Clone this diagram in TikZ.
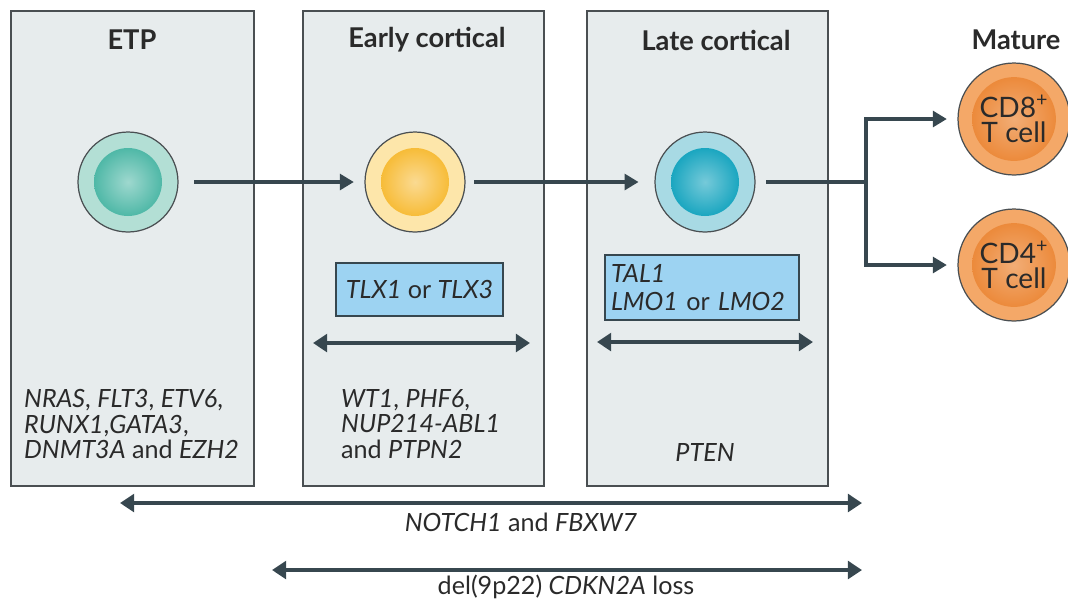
\documentclass[tikz,border=0pt]{standalone}
\usepackage{fontspec}
\setmainfont{Lato}
\usetikzlibrary{arrows.meta}

\definecolor{stagebg}{HTML}{E7ECED}
\definecolor{boxline}{HTML}{4A4F52}
\definecolor{driverbg}{HTML}{9DD3F2}
\definecolor{arrowc}{HTML}{37474F}
\definecolor{txt}{HTML}{2A2A2A}
\definecolor{etpout}{HTML}{B3DFD5}
\definecolor{etpin}{HTML}{4FB8A7}
\definecolor{earlyout}{HTML}{FDE6AA}
\definecolor{earlyin}{HTML}{F7BC38}
\definecolor{lateout}{HTML}{A8DAE4}
\definecolor{latein}{HTML}{1AA6C0}
\definecolor{matout}{HTML}{F4A868}
\definecolor{matin}{HTML}{EC8A3B}

\begin{document}
\begin{tikzpicture}[x=0.02cm, y=-0.02cm,
    stage/.style={draw=boxline, fill=stagebg, line width=0.9pt, anchor=north west,
      minimum height=9.5cm, inner sep=0pt},
    title/.style={font=\fontsize{15.5}{17}\selectfont\bfseries, text=txt},
    genes/.style={font=\fontsize{14.3}{14.7}\selectfont, text=txt, align=left},
    cellout/.style={circle, draw=boxline, line width=0.7pt, minimum size=2cm, inner sep=0pt},
    cellin/.style={circle, minimum size=1.36cm, inner sep=0pt},
    mature/.style={circle, draw=boxline, line width=0.7pt, fill=matout, minimum size=2.24cm, inner sep=0pt},
    tcell/.style={cellin, minimum size=1.64cm, inner color=matin!70, outer color=matin,
      font=\fontsize{16}{14.5}\selectfont, text=txt, align=center},
    driver/.style={draw=arrowc, fill=driverbg, line width=0.9pt, inner sep=0pt,
      font=\fontsize{14.3}{15.5}\selectfont, text=txt, align=left},
    flow/.style={draw=arrowc, line width=2.3pt, -{Triangle[length=8pt,width=9pt]}},
    span/.style={draw=arrowc, line width=2.6pt, {Triangle[length=8pt,width=10pt]}-{Triangle[length=8pt,width=10pt]}}
  ]
  \useasboundingbox (0,0) rectangle (1068,603);

  % Stages
  \node[stage, minimum width=4.86cm] (etp)   at (10,10)  {};
  \node[stage, minimum width=4.82cm] (early) at (302,10) {};
  \node[stage, minimum width=4.82cm] (late)  at (586,10) {};

  \node[title] (tetp)    at (132,40)  {ETP};
  \node[title] (tearly)  at (427,40)  {Early cortical};
  \node[title] (tlate)   at (716,40)  {Late cortical};
  \node[title] (tmature) at (1016,40) {Mature};

  % Cells
  \node[cellout, fill=etpout]   (cetp)   at (128,182) {};
  \node[cellin, inner color=etpin!55, outer color=etpin] at (cetp) {};
  \node[cellout, fill=earlyout] (cearly) at (415,182) {};
  \node[cellin, inner color=earlyin!55, outer color=earlyin] at (cearly) {};
  \node[cellout, fill=lateout]  (clate)  at (705,182) {};
  \node[cellin, inner color=latein!60, outer color=latein] at (clate) {};

  \node[mature] (cd8) at (1014,119) {};
  \node[tcell] at (cd8) {CD8\textsuperscript{+}\\T cell};
  \node[mature] (cd4) at (1014,265) {};
  \node[tcell] at (cd4) {CD4\textsuperscript{+}\\T cell};

  % Development
  \coordinate (split) at (866,182);
  \draw[flow, shorten <=9pt, shorten >=6pt] (cetp) -- (cearly);
  \draw[flow, shorten <=5pt, shorten >=9pt] (cearly) -- (clate);
  \draw[draw=arrowc, line width=2.3pt, shorten <=6pt] (clate) -- (split);
  \draw[flow, shorten >=6pt] (split) |- (cd8);
  \draw[flow, shorten >=6pt] (split) |- (cd4);

  % Drivers
  \node[driver, minimum width=3.34cm, minimum height=1.06cm] (tlx) at (419.5,289.5)
    {\textit{TLX1} or \textit{TLX3}};
  \node[driver, minimum width=3.88cm, minimum height=1.3cm, text width=3.64cm] (tal) at (702,287.5)
    {\textit{TAL1}\\\textit{LMO1} or \textit{LMO2}};

  \coordinate (ea) at (313,343);
  \coordinate (eb) at (530,343);
  \coordinate (la) at (597,342);
  \coordinate (lb) at (813,342);
  \draw[span] (ea) -- (eb);
  \draw[span] (la) -- (lb);

  \node[genes, anchor=west] (getp) at (18,424)
    {\textit{NRAS}, \textit{FLT3}, \textit{ETV6},\\\textit{RUNX1},\textit{GATA3},\\\textit{DNMT3A} and \textit{EZH2}};
  \node[genes, anchor=west] (gearly) at (335,424)
    {\textit{WT1}, \textit{PHF6},\\\textit{NUP214-ABL1}\\and \textit{PTPN2}};
  \node[genes] (glate) at (705,452) {\textit{PTEN}};

  % Whole span
  \coordinate (na) at (120,503);
  \coordinate (nb) at (862,503);
  \coordinate (da) at (272,570);
  \coordinate (db) at (862,570);
  \draw[span, line width=2.3pt] (na) -- (nb);
  \draw[span, line width=2.3pt] (da) -- (db);
  \node[genes] (notch) at (521,522) {\textit{NOTCH1} and \textit{FBXW7}};
  \node[genes] (cdkn)  at (566,587) {del(9p22) \textit{CDKN2A} loss};
\end{tikzpicture}
\end{document}
